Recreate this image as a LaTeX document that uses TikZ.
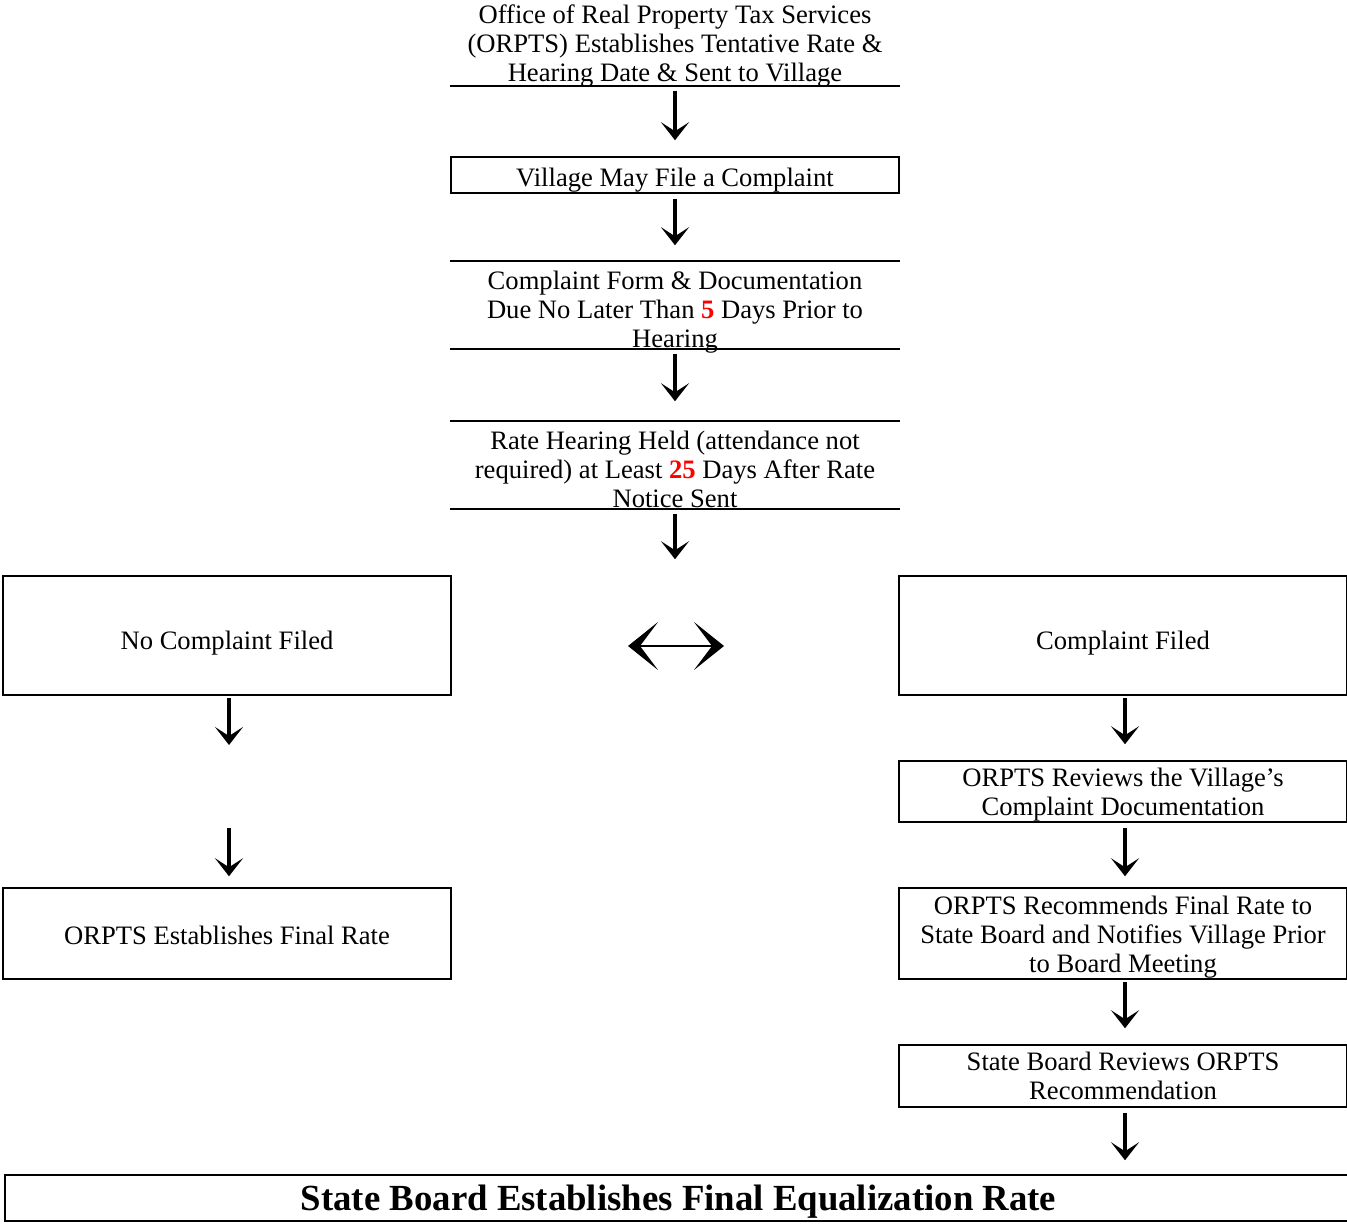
\documentclass[tikz,border=0pt]{standalone}
\usepackage{fontspec}
\setmainfont{Liberation Serif}
\usetikzlibrary{arrows.meta}
\tikzstyle{box} = [draw, line width=0.75pt, minimum width=224pt, inner sep=0pt, align=center, font=\fontsize{13.3}{14.5}\selectfont]
\tikzstyle{ruled} = [box, draw=none, inner ysep=-5pt]
\tikzstyle{rule} = [line width=1pt]
\tikzstyle{arrow} = [line width=1.6pt, -{Stealth[length=9pt,width=14pt,inset=4.5pt]}, shorten <=2.5pt, shorten >=8pt]
\tikzstyle{both} = [line width=1.4pt, {Stealth[length=15pt,width=24pt,inset=9pt]}-{Stealth[length=15pt,width=24pt,inset=9pt]}]
\newcommand{\reddays}[1]{\textcolor{red}{\textbf{#1}}}
\newcommand{\txtdrop}[1]{\rule{0pt}{#1pt}}

\begin{document}
\begin{tikzpicture}[x=0.5pt, y=-0.5pt]
                \useasboundingbox (0,0) rectangle (1347,1224);

                % centre column
                \node (orpts) [ruled, minimum height=41pt] at (675,44) {\txtdrop{11.7}Office of Real Property Tax Services\\(ORPTS) Establishes Tentative Rate \&\\Hearing Date \& Sent to Village};
                \node (village) [box, minimum height=18pt] at (675,175) {\txtdrop{14.2}Village May File a Complaint};
                \node (due) [ruled, minimum height=43pt] at (675,305) {\txtdrop{16.2}Complaint Form \& Documentation\\Due No Later Than \reddays{5} Days Prior to\\Hearing};
                \node (hearing) [ruled, minimum height=43pt] at (675,465) {\txtdrop{13.2}Rate Hearing Held (attendance not\\required) at Least \reddays{25} Days After Rate\\Notice Sent};

                % left column
                \node (nocomp) [box, minimum height=59.5pt] at (227,635.5) {\txtdrop{17.2}No Complaint Filed};
                \node (orfinal) [box, minimum height=45.5pt] at (227,933.5) {\txtdrop{11.2}ORPTS Establishes Final Rate};

                % right column
                \node (comp) [box, minimum height=59.5pt] at (1123,635.5) {\txtdrop{17.2}Complaint Filed};
                \node (review) [box, minimum height=30.5pt] at (1123,791.5) {\txtdrop{12.2}ORPTS Reviews the Village's\\Complaint Documentation};
                \node (recommend) [box, minimum height=45.5pt] at (1123,933.5) {\txtdrop{12.7}ORPTS Recommends Final Rate to\\State Board and Notifies Village Prior\\to Board Meeting};
                \node (sbreview) [box, minimum height=31pt] at (1123,1076) {State Board Reviews ORPTS\\Recommendation};

                % bottom
                \node (eqrate) [box, minimum width=673.5pt, minimum height=23pt, font=\fontsize{18.4}{20}\selectfont\bfseries] at (678.5,1198) {\txtdrop{16.7}State Board Establishes Final Equalization Rate};

                \draw [rule] (orpts.south west) -- (orpts.south east);
                \draw [rule] (due.north west) -- (due.north east);
                \draw [rule] (due.south west) -- (due.south east);
                \draw [rule] (hearing.north west) -- (hearing.north east);
                \draw [rule] (hearing.south west) -- (hearing.south east);

                \coordinate (gapA) at (229,761);
                \coordinate (gapB) at (229,828);
                \coordinate (dl) at (628,646);
                \coordinate (dr) at (724,646);

                \draw [arrow] (orpts) -- (village);
                \draw [arrow] (village) -- (due);
                \draw [arrow, shorten >=10pt] (due) -- (hearing);
                \draw [arrow] (hearing.south) -- (hearing.south |- comp.north);
                \draw [both] (dl) -- (dr);
                \draw [arrow, shorten <=1pt] (nocomp.south -| gapA) -- (gapA);
                \draw [arrow, shorten <=0pt, shorten >=5.5pt] (gapB) -- (gapB |- orfinal.north);
                \draw [arrow, shorten <=1pt] ([xshift=1pt]comp.south) -- ([xshift=1pt]review.north);
                \draw [arrow, shorten >=5.5pt] ([xshift=1pt]review.south) -- ([xshift=1pt]recommend.north);
                \draw [arrow, shorten <=1pt] ([xshift=1pt]recommend.south) -- ([xshift=1pt]sbreview.north);
                \draw [arrow, shorten >=7pt] ([xshift=1pt]sbreview.south) -- ([xshift=1pt]sbreview.south |- eqrate.north);
            \end{tikzpicture}
\end{document}
